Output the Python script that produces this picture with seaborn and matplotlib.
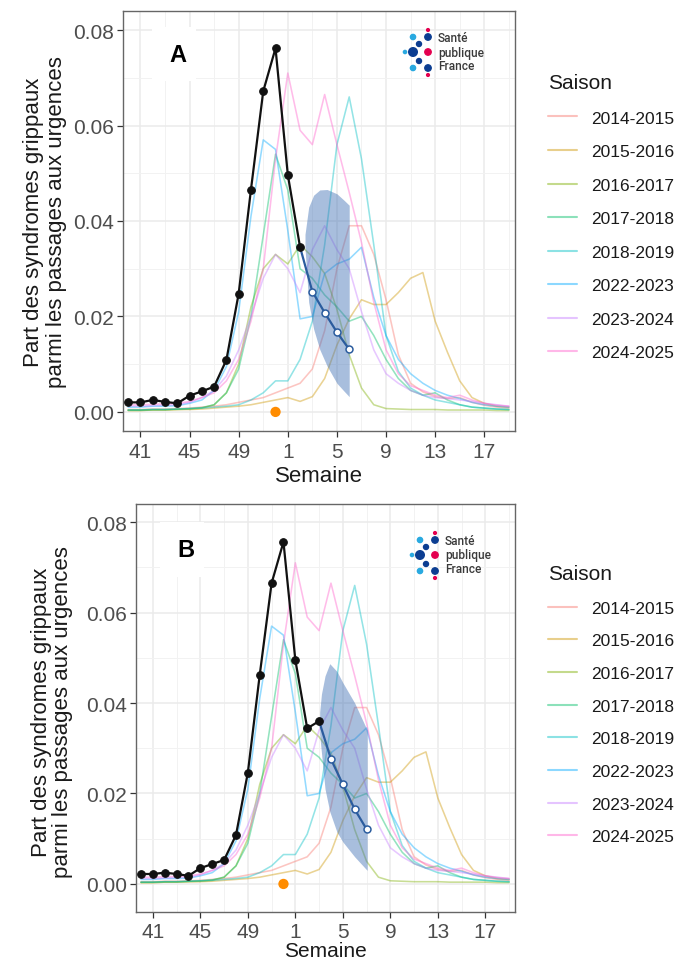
import numpy as np
import pandas as pd
import matplotlib
matplotlib.use("Agg")
import matplotlib.pyplot as plt
import seaborn as sns
from matplotlib.lines import Line2D
from matplotlib.patches import Rectangle

# ---------------- data ----------------
semaines = [40, 41, 42, 43, 44, 45, 46, 47, 48, 49, 50, 51, 52,
            1, 2, 3, 4, 5, 6, 7, 8, 9, 10, 11, 12, 13, 14, 15, 16, 17, 18, 19]
tick_semaines = [41, 45, 49, 1, 5, 9, 13, 17]

saisons = ["2014-2015", "2015-2016", "2016-2017", "2017-2018",
           "2018-2019", "2022-2023", "2023-2024", "2024-2025"]
couleurs = ["#F8766D", "#CD9600", "#7CAE00", "#00BE67",
            "#00BFC4", "#00A9FF", "#C77CFF", "#FF61CC"]

s2014_2015 = [0.0005, 0.0005, 0.0006, 0.0006, 0.0007, 0.0008, 0.0010, 0.0012, 0.0015, 0.0020, 0.0025,
              0.0030, 0.0040, 0.0050, 0.0060, 0.0090, 0.0170, 0.0300, 0.0390, 0.0390, 0.0330, 0.0235,
              0.0120, 0.0060, 0.0042, 0.0032, 0.0028, 0.0030, 0.0020, 0.0014, 0.0010, 0.0008]
s2015_2016 = [0.0003, 0.0003, 0.0004, 0.0004, 0.0005, 0.0005, 0.0006, 0.0008, 0.0010, 0.0012, 0.0015,
              0.0020, 0.0025, 0.0030, 0.0022, 0.0032, 0.0070, 0.0140, 0.0195, 0.0235, 0.0225, 0.0225,
              0.0250, 0.0280, 0.0292, 0.0190, 0.0125, 0.0065, 0.0030, 0.0018, 0.0012, 0.0010]
s2016_2017 = [0.0003, 0.0003, 0.0004, 0.0004, 0.0005, 0.0006, 0.0008, 0.0015, 0.0040, 0.0100, 0.0220,
              0.0300, 0.0330, 0.0310, 0.0350, 0.0325, 0.0290, 0.0215, 0.0120, 0.0050, 0.0015, 0.0007,
              0.0006, 0.0005, 0.0005, 0.0005, 0.0004, 0.0004, 0.0004, 0.0004, 0.0003, 0.0003]
s2017_2018 = [0.0004, 0.0004, 0.0005, 0.0005, 0.0006, 0.0007, 0.0009, 0.0015, 0.0040, 0.0090, 0.0200,
              0.0370, 0.0540, 0.0465, 0.0300, 0.0280, 0.0245, 0.0220, 0.0190, 0.0200, 0.0160, 0.0110,
              0.0070, 0.0045, 0.0035, 0.0040, 0.0025, 0.0015, 0.0010, 0.0008, 0.0006, 0.0005]
s2018_2019 = [0.0004, 0.0004, 0.0005, 0.0005, 0.0006, 0.0007, 0.0008, 0.0010, 0.0012, 0.0015, 0.0025,
              0.0040, 0.0065, 0.0065, 0.0110, 0.0190, 0.0350, 0.0560, 0.0660, 0.0530, 0.0350, 0.0160,
              0.0085, 0.0050, 0.0035, 0.0025, 0.0020, 0.0015, 0.0010, 0.0008, 0.0006, 0.0005]
s2022_2023 = [0.0010, 0.0010, 0.0012, 0.0012, 0.0013, 0.0018, 0.0025, 0.0045, 0.0095, 0.0210, 0.0410,
              0.0570, 0.0550, 0.0380, 0.0195, 0.0200, 0.0290, 0.0310, 0.0320, 0.0345, 0.0240, 0.0160,
              0.0110, 0.0080, 0.0060, 0.0045, 0.0035, 0.0028, 0.0020, 0.0015, 0.0012, 0.0010]
s2023_2024 = [0.0012, 0.0012, 0.0013, 0.0014, 0.0015, 0.0020, 0.0030, 0.0045, 0.0075, 0.0130, 0.0200,
              0.0280, 0.0330, 0.0300, 0.0250, 0.0340, 0.0390, 0.0340, 0.0300, 0.0210, 0.0130, 0.0080,
              0.0060, 0.0045, 0.0035, 0.0030, 0.0028, 0.0025, 0.0022, 0.0018, 0.0015, 0.0012]
s2024_2025 = [0.0015, 0.0015, 0.0016, 0.0017, 0.0018, 0.0022, 0.0030, 0.0040, 0.0065, 0.0110, 0.0190,
              0.0300, 0.0530, 0.0710, 0.0590, 0.0560, 0.0665, 0.0560, 0.0460, 0.0355, 0.0230, 0.0130,
              0.0080, 0.0055, 0.0045, 0.0035, 0.0030, 0.0035, 0.0025, 0.0018, 0.0014, 0.0012]

# Panel A : observed season + forecast
obs_a = [0.0020, 0.0020, 0.0025, 0.0021, 0.0018, 0.0034, 0.0043, 0.0053, 0.0109, 0.0248,
         0.0466, 0.0672, 0.0762, 0.0497, 0.0345]
prev_sem_a = [2, 3, 4, 5, 6]
prev_a = [0.0345, 0.0252, 0.0208, 0.0167, 0.0131]
ic_pos_a = [14.4, 14.7, 15.1, 15.6, 16.2, 17.0, 17.6, 18.0]
ic_haut_a = [0.0372, 0.0429, 0.0454, 0.0465, 0.0466, 0.0457, 0.0443, 0.0433]
ic_bas_a = [0.0344, 0.0230, 0.0174, 0.0131, 0.0096, 0.0060, 0.0043, 0.0032]
pic_sem_a = 52

# Panel B
obs_b = [0.0022, 0.0022, 0.0025, 0.0022, 0.0018, 0.0035, 0.0044, 0.0053, 0.0108, 0.0246,
         0.0462, 0.0665, 0.0756, 0.0495, 0.0344, 0.0360]
prev_sem_b = [3, 4, 5, 6, 7]
prev_b = [0.0360, 0.0276, 0.0220, 0.0165, 0.0121]
ic_pos_b = [15.05, 15.2, 15.5, 15.9, 16.5, 17.0, 18.0, 19.05]
ic_haut_b = [0.0380, 0.0420, 0.0460, 0.0487, 0.0470, 0.0445, 0.0400, 0.0340]
ic_bas_b = [0.0330, 0.0290, 0.0210, 0.0160, 0.0115, 0.0093, 0.0060, 0.0030]
pic_sem_b = 52

# ---------------- figure ----------------
W, H = 678, 962
sns.set_theme(style="white")
plt.rcParams["font.family"] = ["Liberation Sans", "DejaVu Sans"]

fig = plt.figure(figsize=(W / 100, H / 100), dpi=100)

pos = {s: i for i, s in enumerate(semaines)}
saison_series = [s2014_2015, s2015_2016, s2016_2017, s2017_2018,
                 s2018_2019, s2022_2023, s2023_2024, s2024_2025]
df = pd.concat([pd.DataFrame({"pos": np.arange(len(semaines)), "valeur": v, "Saison": s})
                for s, v in zip(saisons, saison_series)], ignore_index=True)

BLEU = "#2b5c9e"


def fpx(x, y):
    return (x / W, 1 - y / H)


def logo(cx, cy):
    dots = [(0, 0, 4.3, "#0b3d91"), (-8, 0, 1.6, "#29a9e0"), (0, -15, 2.6, "#29a9e0"),
            (0, 16, 2.6, "#29a9e0"), (6, -8, 2.5, "#0b3d91"), (6, 9, 2.5, "#0b3d91"),
            (15, -15, 3.2, "#0b3d91"), (15, 16, 3.2, "#0b3d91"), (15, 0, 3.2, "#e4004f"),
            (15, -22, 1.4, "#e4004f"), (15, 23, 1.4, "#e4004f")]
    for dx, dy, r, c in dots:
        fig.patches.append(matplotlib.patches.Ellipse(fpx(cx + dx, cy + dy), 2 * r / W, 2 * r / H,
                                                      transform=fig.transFigure, color=c, zorder=10))
    for txt, dy in [("Santé", -14), ("publique", 0), ("France", 14)]:
        fig.text(*fpx(cx + 25, cy + dy), txt, ha="left", va="center", fontsize=8.6,
                 family=["Roboto", "DejaVu Sans"], weight="medium", color="#3a3a3a", zorder=10)


def panel(ax, obs, prev_sem, prev, ic_pos, ic_haut, ic_bas, pic_sem, ylim, lettre, box):
    sns.lineplot(data=df, x="pos", y="valeur", hue="Saison", hue_order=saisons,
                 palette=couleurs, alpha=0.42, lw=1.15, legend=False, errorbar=None, ax=ax, zorder=2)
    ax.fill_between(ic_pos, ic_bas, ic_haut, color="#3f70b5", alpha=0.45, lw=0, zorder=3)
    px_prev = [pos[s] for s in prev_sem]
    sns.lineplot(x=px_prev, y=prev, color=BLEU, lw=1.6, ax=ax, zorder=4)
    ax.plot(px_prev[1:], prev[1:], ls="none", marker="o", ms=5, mfc="white", mec=BLEU, mew=1.1, zorder=6)
    px_obs = [pos[s] for s in semaines[:len(obs)]]
    sns.lineplot(x=px_obs, y=obs, color="#111111", lw=1.6, marker="o", markersize=5.5,
                 markeredgecolor="#111111", ax=ax, zorder=5)
    sns.scatterplot(x=[pos[pic_sem]], y=[0.0], color="#FF8C00", s=55, edgecolor="none", ax=ax, zorder=6)

    ax.set_xlim(-0.42, 31.5)
    ax.set_ylim(*ylim)
    ax.set_xticks([pos[s] for s in tick_semaines])
    ax.set_xticklabels([str(s) for s in tick_semaines])
    ax.set_xticks([pos[s] + 2 for s in tick_semaines], minor=True)
    ax.set_yticks([0.0, 0.02, 0.04, 0.06, 0.08])
    ax.set_yticklabels(["0.00", "0.02", "0.04", "0.06", "0.08"])
    ax.set_yticks([0.01, 0.03, 0.05, 0.07], minor=True)
    ax.grid(True, which="major", color="#ebebeb", lw=1.1, zorder=0)
    ax.grid(True, which="minor", color="#f2f2f2", lw=0.7, zorder=0)
    ax.set_axisbelow(True)
    ax.tick_params(axis="x", which="major", pad=4)
    ax.tick_params(axis="y", which="major", pad=2.5)
    ax.tick_params(axis="both", which="major", length=4, width=0.9, color="#333333",
                   labelsize=15, labelcolor="#4d4d4d", bottom=True, left=True)
    ax.tick_params(axis="both", which="minor", length=0)
    for sp in ax.spines.values():
        sp.set_color("#666666")
        sp.set_linewidth(1.0)
    ax.set_xlabel("Semaine", fontsize=16, color="#1a1a1a", labelpad=3)
    ax.set_ylabel("")
    ax.add_patch(Rectangle((box[0], box[1]), box[2], box[3], transform=ax.transAxes,
                           facecolor="white", edgecolor="none", zorder=1))
    ax.text(box[0] + box[2] / 2 + 0.01, box[1] + box[3] / 2, lettre, transform=ax.transAxes,
            ha="center", va="center", fontsize=17, weight="bold", color="black", zorder=7)


# Panel A
axA = fig.add_axes([123 / W, 1 - 432 / H, 392 / W, 420 / H])
panel(axA, obs_a, prev_sem_a, prev_a, ic_pos_a, ic_haut_a, ic_bas_a, pic_sem_a,
      (-0.0040, 0.0840), "A", (29 / 392, 350 / 420, 44 / 392, 54 / 420))
# Panel B
axB = fig.add_axes([136 / W, 1 - 913 / H, 379 / W, 408 / H])
panel(axB, obs_b, prev_sem_b, prev_b, ic_pos_b, ic_haut_b, ic_bas_b, pic_sem_b,
      (-0.0062, 0.0840), "B", (24 / 379, 335 / 408, 44 / 379, 55 / 408))
axB.tick_params(axis="x", which="major", pad=3)
axB.set_xlabel("Semaine", fontsize=15, color="#1a1a1a", labelpad=0)

ylab = "Part des syndromes grippaux\nparmi les passages aux urgences"
fig.text(*fpx(45, 222), ylab, rotation=90, ha="center", va="center", fontsize=16,
         color="#1a1a1a", linespacing=1.1, multialignment="center")
fig.text(*fpx(52, 712), ylab, rotation=90, ha="center", va="center", fontsize=16,
         color="#1a1a1a", linespacing=1.05, multialignment="center")

logo(413, 53)
logo(420, 556)

handles = [Line2D([0], [0], color=c, lw=1.5, alpha=0.45) for c in couleurs]
for top, sp in ((74, 1.06), (565, 1.01)):
    leg = fig.legend(handles, saisons, title="Saison", loc="upper left",
                     bbox_to_anchor=fpx(548, top), frameon=False, fontsize=12.5,
                     title_fontsize=15, handlelength=1.65, handletextpad=0.85,
                     labelspacing=sp, borderpad=0, borderaxespad=0, alignment="left")
    for t in leg.get_texts():
        t.set_color("#1a1a1a")
    leg.get_title().set_color("#1a1a1a")

fig.savefig("out.png", dpi=100)
